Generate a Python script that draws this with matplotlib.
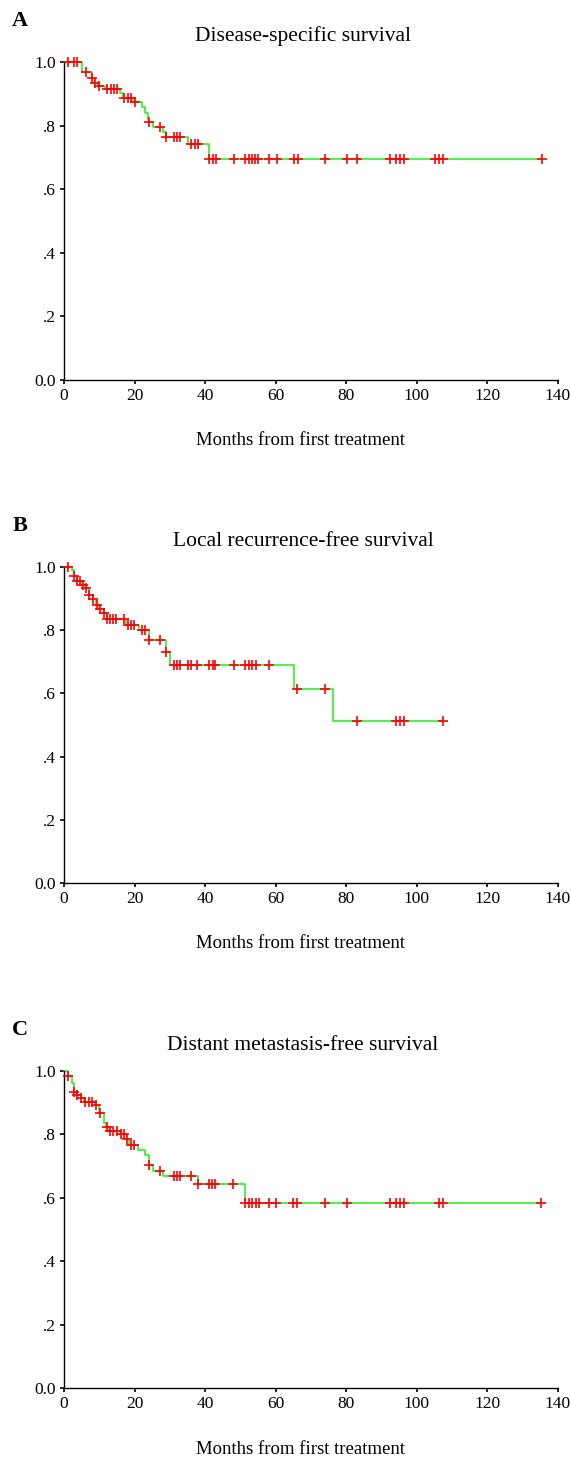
import numpy as np
import matplotlib
matplotlib.use('Agg')
import matplotlib.pyplot as plt

plt.rcParams['font.family'] = ['Liberation Serif', 'DejaVu Serif']

# panel A - disease-specific survival
a_event_t = [5.0, 8.0, 8.6, 9.6, 11.5, 15.9, 16.7, 19.6, 22.2, 23.0, 23.9, 25.1, 28.0, 29.0, 35.1, 41.2]
a_surv = [.968, .949, .935, .925, .915, .902, .888, .873, .857, .840, .810, .796, .780, .765, .743, .696]
a_censor = [1.0, 2.9, 3.8, 6.1, 8.0, 8.7, 10.0, 12.3, 13.3, 14.2, 15.1, 17.1, 18.1, 19.0, 20.2,
            24.0, 27.1, 29.0, 31.1, 32.0, 33.0, 36.1, 37.0, 38.0, 41.2, 42.1, 43.1, 48.2, 51.4,
            52.3, 53.2, 54.1, 55.0, 58.0, 60.3, 65.1, 66.3, 74.1, 80.3, 83.1, 92.4, 94.2, 95.3,
            96.4, 105.2, 106.3, 107.5, 135.4]

# panel B - local recurrence-free survival
b_event_t = [2.2, 2.8, 3.8, 4.9, 6.2, 7.1, 8.2, 9.1, 10.0, 11.2, 12.1, 17.6, 21.2, 24.0, 28.9, 30.1, 65.1, 76.2]
b_surv = [.989, .971, .955, .944, .932, .910, .898, .879, .866, .855, .834, .818, .801, .770, .731, .691, .613, .513]
b_censor = [1.0, 2.8, 3.8, 4.4, 5.5, 6.3, 7.2, 8.2, 9.3, 10.2, 11.2, 12.1, 12.9, 13.8, 14.8, 17.0,
            18.0, 18.9, 19.8, 22.1, 22.9, 24.1, 27.2, 29.0, 31.1, 32.0, 33.0, 35.0, 36.0, 37.6,
            41.2, 42.1, 42.9, 48.1, 51.4, 52.3, 53.3, 54.3, 58.0, 66.1, 74.1, 83.1, 94.2, 95.2,
            96.4, 107.5]

# panel C - distant metastasis-free survival
c_event_t = [1.0, 2.2, 2.9, 3.8, 4.9, 5.8, 8.8, 10.0, 11.2, 12.0, 12.7, 16.1, 17.6, 18.5, 21.1,
             23.0, 24.0, 25.1, 28.0, 38.0, 51.2]
c_surv = [.984, .961, .935, .924, .914, .903, .893, .868, .835, .824, .811, .800, .786, .766, .750,
          .735, .703, .684, .668, .643, .585]
c_censor = [1.0, 2.9, 3.8, 4.9, 6.0, 7.1, 8.0, 9.1, 10.1, 12.1, 12.9, 14.0, 15.1, 16.2, 17.1, 17.8,
            18.9, 19.9, 24.0, 27.1, 31.1, 32.0, 33.0, 36.1, 38.0, 41.0, 42.0, 42.7, 47.9, 51.4,
            52.4, 53.3, 54.3, 55.2, 58.0, 60.2, 65.0, 66.1, 74.1, 80.3, 92.3, 94.2, 95.3, 96.4,
            106.3, 107.5, 135.3]

letters = ['A', 'B', 'C']
titles = ['Disease-specific survival', 'Local recurrence-free survival', 'Distant metastasis-free survival']
xlabel = 'Months from first treatment'
xticks = [0, 20, 40, 60, 80, 100, 120, 140]
yticks = [0.0, 0.2, 0.4, 0.6, 0.8, 1.0]
ytick_labels = ['0.0', '.2', '.4', '.6', '.8', '1.0']

W, H = 571, 1459
fig = plt.figure(figsize=(W / 100, H / 100), dpi=100)

# axes boxes in pixels: (top, bottom)
boxes = [(62, 380), (567, 883), (1071, 1388)]
left_px, right_px = 64, 558

panels = [(a_event_t, a_surv, a_censor), (b_event_t, b_surv, b_censor), (c_event_t, c_surv, c_censor)]

for i, (ev_t, surv, cens) in enumerate(panels):
    top, bot = boxes[i]
    ax = fig.add_axes([left_px / W, 1 - bot / H, (right_px - left_px) / W, (bot - top) / H])

    t_end = max(cens)
    t = np.concatenate([[0.0], ev_t, [t_end]])
    s = np.concatenate([[1.0], surv, [surv[-1]]])
    ax.step(t, s, where='post', color='#1aef1a', lw=1.1, clip_on=False, zorder=2)

    idx = np.searchsorted(t[:-1], cens, side='right') - 1
    ax.plot(cens, s[idx], '+', color='#ff0000', ms=6.5, mew=1.2, clip_on=False, zorder=3)

    ax.set_xlim(0, 140)
    ax.set_ylim(0, 1.0)
    ax.set_xticks(xticks)
    ax.set_yticks(yticks)
    ax.set_yticklabels(ytick_labels)
    for sp in ['top', 'right']:
        ax.spines[sp].set_visible(False)
    for sp in ['left', 'bottom']:
        ax.spines[sp].set_linewidth(1.0)
    ax.tick_params(direction='out', length=3, width=1.2, labelsize=12.5, pad=3)

    fig.text(20 / W, 1 - (top - 41) / H, letters[i], fontsize=16, fontweight='bold',
             ha='center', va='center')
    fig.text(303 / W, 1 - (top - 26) / H, titles[i], fontsize=15.5, ha='center', va='center')
    fig.text(300 / W, 1 - (bot + 61) / H, xlabel, fontsize=13.5, ha='center', va='center')

fig.savefig('out.png', dpi=100)
